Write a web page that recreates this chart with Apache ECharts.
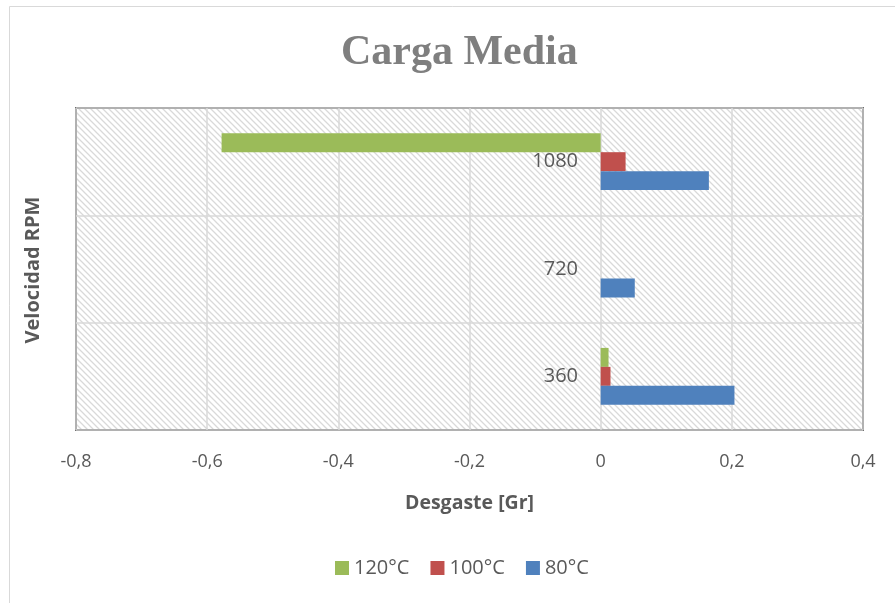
<!DOCTYPE html>
<html>
<head>
<meta charset="utf-8">
<script src="https://cdn.jsdelivr.net/npm/echarts@6/dist/echarts.min.js"></script>
<style>
  html, body { margin: 0; padding: 0; background: #fff; }
  #chart { width: 895px; height: 603px; }
</style>
</head>
<body>
<div id="chart"></div>
<script>
// datos
const categories = ['360', '720', '1080']
const serie80 = [0.204, 0.052, 0.165]
const serie100 = [0.015, 0, 0.038]
const serie120 = [0.012, 0, -0.578]
const xTicks = [-0.8, -0.6, -0.4, -0.2, 0, 0.2, 0.4]

// patrón de rayas diagonales para el fondo del área de trazado
function makeHatch() {
  const c = document.createElement('canvas')
  const s = 6
  c.width = s
  c.height = s
  const ctx = c.getContext('2d')
  ctx.fillStyle = '#ffffff'
  ctx.fillRect(0, 0, s, s)
  ctx.strokeStyle = '#d9d9d9'
  ctx.lineWidth = 1.3
  ctx.beginPath()
  ctx.moveTo(-1, -1); ctx.lineTo(s + 1, s + 1)
  ctx.moveTo(-1 - s, -1); ctx.lineTo(1, s + 1)
  ctx.moveTo(s - 1, -1); ctx.lineTo(2 * s + 1, s + 1)
  ctx.stroke()
  return c
}

const chart = echarts.init(document.getElementById('chart'))
const gray = '#595959'
const gridLeft = 76
const zeroX = 600 // las etiquetas del eje vertical van junto al 0

chart.setOption({
  animation: false,
  backgroundColor: '#fff',
  title: {
    text: 'Carga Media',
    left: 336,
    top: 27,
    textStyle: {
      fontFamily: 'Liberation Serif',
      fontWeight: 'bold',
      fontSize: 42,
      color: '#7f7f7f'
    }
  },
  graphic: [
    {
      type: 'rect',
      shape: { x: 9.5, y: 6.5, width: 900, height: 620 },
      style: { fill: 'none', stroke: '#d9d9d9', lineWidth: 1 },
      z: -1
    },
    {
      type: 'text',
      x: 33,
      y: 270,
      rotation: Math.PI / 2,
      style: {
        text: 'Velocidad RPM',
        font: 'bold 20px "Open Sans"',
        fill: gray,
        align: 'center',
        verticalAlign: 'middle'
      }
    }
  ],
  legend: {
    data: ['120°C', '100°C', '80°C'],
    bottom: 20,
    left: 330,
    icon: 'rect',
    itemWidth: 14,
    itemHeight: 14,
    itemGap: 21,
    textStyle: { fontFamily: 'Open Sans', fontSize: 20, color: gray }
  },
  grid: {
    left: gridLeft,
    right: 32,
    top: 108,
    bottom: 173,
    show: true,
    backgroundColor: { image: makeHatch(), repeat: 'repeat' },
    borderColor: '#000',
    borderWidth: 1.5
  },
  xAxis: {
    type: 'value',
    min: -0.8,
    max: 0.4,
    interval: 0.2,
    name: 'Desgaste [Gr]',
    nameLocation: 'middle',
    nameGap: 63,
    nameTextStyle: { fontFamily: 'Open Sans', fontWeight: 'bold', fontSize: 19.5, color: gray },
    axisLine: { show: false },
    axisTick: { show: false },
    axisLabel: {
      fontFamily: 'Open Sans',
      fontSize: 18,
      color: gray,
      margin: 23,
      formatter: v => {
        const t = xTicks.find(x => Math.abs(x - v) < 1e-9)
        return t === undefined ? '' : String(Math.round(t * 10) / 10).replace('.', ',')
      }
    },
    splitLine: { show: true, lineStyle: { color: '#d9d9d9', width: 1.5 } }
  },
  yAxis: {
    type: 'category',
    data: categories,
    axisLine: { show: false },
    axisTick: { show: false },
    axisLabel: {
      fontFamily: 'Open Sans',
      fontSize: 20,
      color: gray,
      margin: gridLeft - (zeroX - 22)
    },
    splitLine: { show: true, lineStyle: { color: '#d9d9d9', width: 1.5 } }
  },
  series: [
    {
      name: '120°C', type: 'bar', data: serie120,
      itemStyle: { color: '#9bbb59' },
      barGap: '0%', barCategoryGap: '47%'
    },
    {
      name: '100°C', type: 'bar', data: serie100,
      itemStyle: { color: '#c0504d' },
      barGap: '0%', barCategoryGap: '47%'
    },
    {
      name: '80°C', type: 'bar', data: serie80,
      itemStyle: { color: '#4f81bd' },
      barGap: '0%', barCategoryGap: '47%'
    }
  ]
})
</script>
</body>
</html>
